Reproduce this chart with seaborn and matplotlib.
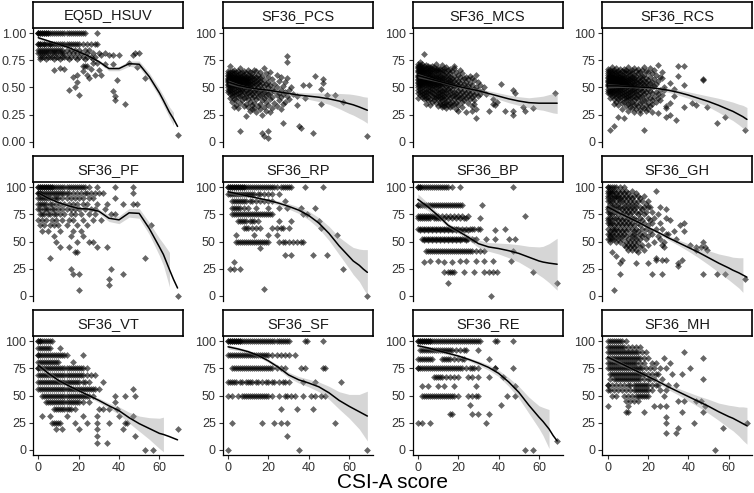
import numpy as np
import pandas as pd
import seaborn as sns
import matplotlib.pyplot as plt

# x grid of the loess curves
SMOOTH_X = [0, 5, 10, 15, 20, 25, 30, 35, 40, 45, 50, 55, 60, 62, 65, 67, 69]

# points: score value -> CSI-A scores seen at that value
eq5d_points = {
    1.00: [0, 0, 0, 1, 1, 2, 2, 3, 3, 4, 4, 5, 5, 6, 7, 8, 9, 10, 11, 12, 13, 14, 15, 16, 17, 18, 19, 20, 21, 22, 23, 29],
    0.90: [0, 0, 1, 1, 2, 3, 3, 4, 5, 6, 6, 7, 8, 9, 10, 11, 12, 13, 14, 15, 16, 17, 18, 19, 20, 22, 24, 26, 28, 29],
    0.85: [0, 1, 2, 3, 4, 5, 6, 7, 8, 9, 10, 11, 12, 14, 16, 18, 20, 23, 25],
    0.82: [0, 1, 2, 3, 4, 5, 7, 8, 9, 11, 12, 13, 15, 17, 19, 21, 24, 27, 30, 33, 48, 50],
    0.80: [31, 35, 37, 40, 47],
    0.78: [1, 2, 3, 5, 6, 7, 9, 10, 12, 13, 14, 16, 18, 20, 22, 24, 26, 28],
    0.76: [1, 4, 8, 11, 15, 19, 23, 27],
    0.73: [29, 45, 27],
    0.72: [33, 37],
    0.70: [22, 23, 24],
    0.69: [49],
    0.67: [13, 26],
    0.66: [8, 30],
    0.68: [11],
    0.65: [22],
    0.62: [19, 24, 28, 31],
    0.60: [17],
    0.59: [25, 53],
    0.57: [39],
    0.55: [19],
    0.50: [18],
    0.48: [15],
    0.47: [37],
    0.43: [20],
    0.42: [38],
    0.38: [38],
    0.35: [43],
    0.06: [69],
}
eq5d_line = [0.96, 0.93, 0.90, 0.87, 0.83, 0.79, 0.74, 0.675, 0.675, 0.72, 0.715, 0.60, 0.45, 0.38, 0.27, 0.21, 0.14]
eq5d_band = [0.015, 0.01, 0.01, 0.01, 0.01, 0.01, 0.015, 0.02, 0.02, 0.025, 0.03, 0.035, 0.04, 0.045, 0.05, 0.06]

pcs_points = {
    79: [29], 74: [29], 70: [1], 68: [6, 18], 66: [3, 10, 13], 65: [0, 2, 5, 8, 14],
    64: [1, 4, 7, 11, 16, 21], 63: [0, 2, 3, 6, 9, 12, 19], 62: [0, 1, 4, 5, 8, 10, 15, 24],
    61: [0, 2, 3, 6, 7, 11, 13, 17, 43], 60: [1, 2, 4, 5, 8, 9, 12, 14, 20, 26],
    59: [0, 1, 3, 4, 6, 7, 10, 11, 16, 29], 58: [0, 2, 3, 5, 6, 8, 9, 13, 15, 22, 47],
    57: [0, 1, 2, 4, 5, 7, 9, 10, 12, 18], 56: [0, 1, 3, 4, 6, 8, 11, 14, 16, 25],
    55: [0, 2, 3, 5, 7, 9, 10, 13, 20, 28], 54: [1, 2, 4, 6, 8, 10, 12, 15, 17, 47],
    53: [0, 1, 3, 5, 6, 9, 11, 14, 19, 23], 52: [0, 2, 4, 5, 7, 8, 12, 16, 21, 37, 40],
    51: [1, 3, 6, 9, 10, 13, 18, 27], 50: [0, 2, 4, 5, 8, 11, 15, 20, 24, 31],
    49: [1, 3, 6, 7, 10, 14, 17, 22, 46], 48: [0, 2, 5, 9, 12, 16, 26, 30],
    47: [1, 4, 7, 11, 13, 19, 23], 46: [0, 3, 6, 8, 15, 18, 28], 45: [2, 5, 10, 14, 21, 25],
    44: [1, 4, 9, 12, 17, 20, 27, 32], 43: [3, 7, 11, 16, 24, 49, 53], 42: [2, 6, 13, 19, 29, 34],
    41: [5, 9, 15, 22, 26], 40: [1, 8, 12, 18, 38], 39: [3, 10, 14, 21, 30], 38: [4, 7, 17, 25],
    37: [2, 11, 19, 28, 57], 36: [6, 13, 23], 35: [9, 16, 27, 46], 34: [4, 12, 20, 34],
    33: [8, 15, 24], 32: [3, 10, 18], 31: [5, 13, 22], 30: [12, 16, 26], 28: [11, 19],
    27: [14, 21], 25: [17], 24: [9], 17: [27], 14: [35], 13: [36], 10: [6, 20], 8: [17, 42],
    5: [18, 69], 3: [20],
}
pcs_line = [55, 52, 50, 48.5, 47.5, 46, 44.5, 43, 42, 41, 39.5, 37.5, 35, 34, 32, 30.5, 29]
pcs_band = [2, 1.5, 1, 1, 1, 1.3, 2, 2.5, 3, 4, 5, 7, 9, 9.5, 10.5, 11, 12]

mcs_points = {
    81: [3], 74: [1], 72: [0, 2, 9], 71: [1, 4, 12], 70: [0, 3, 5, 7, 18], 69: [0, 1, 2, 6, 8, 14],
    68: [0, 2, 4, 5, 10, 13, 18], 67: [1, 3, 6, 7, 9, 11, 16], 66: [0, 2, 4, 8, 10, 12, 15, 21],
    65: [0, 1, 3, 5, 6, 9, 13, 17], 64: [0, 2, 4, 7, 8, 11, 14, 19], 63: [1, 2, 3, 5, 6, 10, 12, 16, 22],
    62: [0, 1, 4, 6, 7, 9, 13, 15, 20, 29], 61: [0, 2, 3, 5, 8, 10, 11, 14, 18, 26],
    60: [0, 1, 3, 4, 6, 9, 12, 16, 21, 24], 59: [1, 2, 4, 5, 7, 8, 11, 13, 17, 23, 27],
    58: [0, 2, 3, 6, 7, 10, 12, 15, 19, 25], 57: [0, 1, 3, 4, 5, 8, 9, 14, 16, 22, 28],
    56: [1, 2, 4, 6, 7, 10, 11, 13, 18, 20], 55: [0, 2, 3, 5, 8, 9, 12, 15, 17, 24, 30],
    54: [0, 1, 4, 6, 7, 11, 14, 16, 21, 26], 53: [1, 3, 5, 8, 10, 12, 13, 19, 23, 41],
    52: [0, 2, 4, 6, 9, 11, 15, 17, 20, 27, 31], 51: [1, 3, 7, 8, 10, 14, 18, 22, 25],
    50: [0, 2, 5, 6, 9, 12, 16, 19, 24, 29, 33], 49: [1, 4, 7, 11, 13, 15, 21, 26, 28],
    48: [0, 3, 5, 8, 10, 14, 17, 23, 30, 47], 47: [2, 6, 9, 12, 16, 20, 25, 32],
    46: [1, 4, 7, 11, 13, 18, 22, 27], 45: [0, 3, 5, 10, 14, 19, 24, 29, 48, 68],
    44: [2, 6, 8, 12, 16, 21, 26, 31, 34], 43: [1, 4, 9, 11, 15, 18, 23, 28],
    42: [3, 7, 10, 13, 17, 20, 25, 30], 41: [2, 5, 8, 12, 14, 19, 22, 27], 40: [0, 4, 9, 11, 16, 21, 24],
    39: [3, 6, 10, 13, 18, 26, 37], 38: [5, 8, 12, 15, 20, 23, 28], 37: [7, 11, 14, 17, 22, 39],
    36: [9, 13, 16, 19, 25], 35: [4, 11, 14, 18, 28, 37], 34: [6, 12, 15, 20, 38], 33: [10, 13, 17, 27],
    32: [12, 16, 22, 52], 31: [14, 57], 30: [19, 29], 28: [20, 27, 35, 43, 47, 53], 27: [24],
    25: [47], 22: [29],
}
mcs_line = [61, 58.5, 56, 53.5, 51, 49, 47, 44.5, 42, 39.5, 37.5, 36, 35.5, 35.5, 35.5, 35.5, 35.5]
mcs_band = [2, 1.5, 1, 1, 1, 1.5, 2, 2.5, 3, 3.5, 4, 4.5, 6, 6.5, 8, 9, 9.5]

rcs_points = {
    71: [25], 70: [35, 38], 69: [2, 10, 18], 68: [4, 13, 21], 67: [0, 6, 8, 15], 66: [1, 3, 9, 12, 17, 23],
    65: [0, 2, 5, 7, 11, 14, 19], 64: [1, 3, 4, 8, 10, 16, 20, 27], 63: [0, 2, 5, 6, 9, 12, 15, 22],
    62: [0, 1, 3, 4, 7, 11, 13, 18, 24], 61: [1, 2, 5, 6, 8, 10, 14, 17, 35],
    60: [0, 2, 3, 4, 7, 9, 12, 16, 21, 26], 59: [0, 1, 3, 5, 6, 8, 11, 13, 19, 27],
    58: [1, 2, 4, 5, 7, 10, 12, 15, 17, 23, 47], 57: [0, 2, 3, 6, 8, 9, 11, 14, 20, 47],
    56: [0, 1, 3, 4, 5, 7, 10, 13, 16, 18, 25], 55: [0, 2, 4, 6, 8, 9, 12, 14, 19, 22],
    54: [1, 2, 3, 5, 7, 10, 11, 15, 17, 21, 31], 53: [0, 1, 3, 4, 6, 8, 9, 13, 16, 24],
    52: [0, 2, 3, 5, 7, 9, 11, 12, 18, 20, 38], 51: [0, 1, 4, 6, 8, 10, 13, 15, 19, 23],
    50: [1, 2, 3, 5, 7, 9, 12, 14, 17, 22, 28], 49: [0, 2, 4, 6, 8, 11, 13, 16, 20, 33],
    48: [1, 3, 5, 7, 10, 12, 15, 18, 26, 28], 47: [0, 2, 4, 6, 9, 14, 17, 21],
    46: [1, 3, 5, 8, 11, 13, 19, 24], 45: [0, 2, 7, 10, 12, 16, 22], 44: [1, 4, 6, 9, 14, 18, 25],
    43: [3, 5, 8, 11, 15, 20, 27], 42: [2, 7, 10, 13, 17, 33], 41: [4, 6, 9, 12, 16, 23],
    40: [1, 8, 11, 14, 21, 25], 39: [3, 5, 10, 15, 19], 38: [6, 9, 13, 18, 22, 26],
    37: [4, 8, 12, 17, 24], 36: [7, 11, 16, 20, 31, 42], 35: [3, 10, 14, 22], 34: [5, 13, 19, 44],
    33: [9, 15, 21, 29], 32: [11, 17, 38, 49], 31: [12, 18, 29], 30: [7, 14, 20], 29: [16],
    28: [10, 19], 27: [13, 22], 26: [16, 25], 25: [31], 23: [5, 29, 58], 22: [8], 20: [34],
    17: [54], 14: [3], 11: [1, 18, 68],
}
rcs_line = [51.5, 51.5, 51, 50.5, 50, 49, 47.5, 45.5, 43, 40, 37, 33.5, 29.5, 28, 25, 23, 20.5]
rcs_band = [2, 1.5, 1, 1, 1, 1.5, 2, 2.5, 3, 4, 5, 6.5, 8, 8.5, 9.5, 10.5, 11]

pf_points = {
    100: [0, 0, 1, 1, 2, 2, 3, 3, 4, 4, 5, 5, 6, 6, 7, 7, 8, 9, 10, 11, 12, 13, 14, 15, 16, 17, 18, 19, 20, 21, 22, 23, 25, 29, 38, 47],
    95: [0, 0, 1, 1, 2, 3, 4, 5, 6, 7, 8, 9, 10, 11, 12, 13, 14, 15, 17, 19, 21, 23, 24, 26, 28, 30, 32, 47],
    90: [0, 1, 2, 3, 4, 5, 6, 8, 9, 10, 12, 14, 16, 18, 20, 22, 25, 27, 38],
    85: [0, 1, 2, 3, 4, 6, 7, 9, 11, 13, 15, 17, 19, 22, 24, 29, 34, 42, 47, 49],
    80: [0, 1, 3, 4, 5, 7, 8, 10, 12, 14, 16, 18, 20, 23, 26, 28, 33],
    75: [1, 2, 3, 5, 6, 8, 9, 11, 13, 16, 18, 21, 25, 28, 36, 38],
    70: [0, 2, 4, 7, 9, 12, 15, 17, 22, 27, 31],
    65: [1, 3, 6, 8, 10, 14, 19, 24, 56],
    60: [2, 5, 11, 17, 21],
    55: [8, 16, 22],
    50: [9, 19, 25, 27],
    45: [11, 15, 29, 34],
    40: [18, 19],
    35: [6, 53],
    25: [16, 36],
    20: [17, 20, 42],
    15: [35],
    10: [35],
    5: [20],
    0: [69],
}
pf_line = [95, 90, 86, 83, 80.5, 80, 78, 71.5, 70, 76.5, 76, 62, 45, 38, 24, 15, 7]
pf_band = [1.5, 1.5, 1.5, 1.5, 1.5, 1.5, 2, 3, 3.5, 4, 4.5, 5.5, 8, 10, 16]

rp_points = {
    100: [0, 0, 1, 1, 2, 2, 3, 3, 4, 4, 5, 5, 6, 6, 7, 7, 8, 8, 9, 10, 11, 12, 13, 14, 15, 16, 17, 18, 19, 20, 21, 22, 23, 24, 26, 27, 28, 29, 30, 31, 38, 47],
    93.75: [0, 1, 2, 3, 4, 5, 6, 7, 8, 9, 10, 11, 12, 13, 15, 16, 18, 20, 22, 25],
    87.5: [2, 3, 4, 5, 6, 7, 8, 9, 11, 12, 14, 16, 18, 20, 22, 28],
    81.25: [2, 3, 4, 5, 6, 8, 10, 14, 20, 25, 29, 36, 43],
    75: [2, 3, 4, 5, 6, 7, 8, 9, 10, 11, 12, 13, 14, 15, 16, 17, 18, 19, 20, 21, 22, 37, 39],
    68.75: [5, 6, 7, 8, 9, 11, 12, 13, 15, 25, 31, 45],
    62.5: [8, 9, 10, 12, 14, 16, 22, 24, 26, 27, 30, 46],
    56.25: [4, 13, 20, 24, 54],
    50: [4, 5, 6, 7, 8, 9, 10, 11, 12, 13, 14, 15, 16, 17, 18, 19, 20, 25, 27, 28, 30, 32, 34, 36, 37],
    43.75: [16],
    37.5: [28, 31, 42, 49],
    31.25: [3],
    25: [1, 3, 6, 57],
    6.25: [18],
    0: [69],
}
rp_line = [96, 94, 92, 90, 88, 85.5, 82.5, 79, 74, 67, 57.5, 46, 36, 32, 28, 24.5, 21.5]
rp_band = [2, 1.5, 1.2, 1.2, 1.5, 2, 2.5, 3, 4, 5, 6.5, 8, 11, 12.5, 15, 18, 21]

bp_points = {
    100: [0, 0, 1, 1, 2, 3, 4, 5, 6, 7, 8, 9, 10, 11, 12, 13, 14, 15, 17, 21, 47],
    84: [0, 0, 1, 2, 3, 4, 5, 6, 7, 8, 9, 10, 11, 12, 13, 14, 15, 16, 17, 18, 19, 20, 21, 22, 32],
    74: [0, 1, 2, 3, 4, 5, 6, 7, 8, 9, 10, 12, 14, 16, 18, 20, 22, 25, 53],
    72: [0, 1, 2, 3, 4, 5, 6, 8, 9, 10, 11, 13, 15, 17, 19, 21, 23, 24, 31],
    62: [0, 1, 2, 3, 4, 5, 6, 7, 8, 9, 10, 11, 12, 13, 14, 15, 16, 17, 18, 19, 20, 22, 24, 26, 27, 28, 30, 31, 43],
    61: [1, 3, 5, 7, 9, 11, 13, 15, 17, 19, 21, 23, 25, 38],
    52: [2, 3, 4, 5, 6, 7, 8, 9, 10, 11, 12, 13, 14, 15, 16, 17, 18, 19, 20, 21, 22, 23, 24, 25, 27, 29, 34, 38, 45, 48],
    51: [3, 5, 7, 9, 11, 13, 15, 17, 19, 21, 24, 28],
    41: [4, 5, 6, 7, 8, 9, 10, 11, 12, 13, 14, 15, 16, 17, 18, 19, 20, 21, 22, 23, 24, 25, 26, 27, 29, 31, 33, 47],
    32: [6, 10, 21, 24, 29, 33, 37, 46],
    31: [3, 13, 17],
    22: [13, 15, 16, 17, 18, 23, 28, 33, 35, 37, 39, 57],
    12: [15, 69],
    0: [36],
}
bp_line = [89, 82, 74, 65, 59.5, 54, 48, 45, 43.5, 41.5, 39, 35.5, 32, 31, 30, 29.5, 29]
bp_band = [5, 3.5, 2.5, 2, 2, 2.5, 3.5, 4, 5, 6.5, 8, 10, 13, 14.5, 18, 21, 24]

gh_points = {
    100: [0, 0, 1, 2, 3, 4, 6, 8],
    97: [0, 1, 2, 3, 5, 7, 9, 12, 24],
    95: [0, 1, 2, 4, 6, 8, 10, 14],
    92: [0, 1, 3, 4, 5, 7, 9, 11, 13, 15, 18],
    90: [0, 2, 3, 5, 6, 8, 10, 12, 16],
    87: [0, 1, 2, 4, 6, 7, 9, 11, 13, 15, 17, 20],
    85: [1, 3, 5, 8, 10, 12, 14, 19],
    82: [0, 1, 2, 3, 5, 6, 8, 10, 12, 14, 16, 18, 20, 21, 26],
    80: [0, 2, 4, 7, 9, 11, 13, 17, 29],
    77: [0, 1, 3, 4, 6, 8, 10, 12, 14, 16, 19, 22],
    75: [1, 2, 5, 7, 9, 11, 15, 18, 25],
    72: [0, 1, 3, 4, 6, 8, 10, 12, 13, 16, 20, 23, 29],
    70: [0, 2, 5, 7, 9, 11, 14, 17, 21, 31],
    67: [0, 1, 2, 4, 6, 8, 10, 12, 15, 18, 22, 26, 38],
    65: [1, 3, 5, 7, 9, 11, 13, 16, 20, 36],
    62: [0, 2, 3, 4, 6, 8, 10, 12, 14, 17, 19, 24, 27],
    60: [1, 3, 5, 7, 9, 13, 15, 21, 33, 38],
    57: [0, 1, 2, 4, 6, 8, 11, 13, 16, 18, 22, 29, 30],
    55: [1, 3, 5, 7, 9, 12, 14, 17, 20, 25],
    52: [0, 1, 2, 3, 5, 7, 10, 12, 14, 16, 19, 26, 34],
    50: [1, 4, 6, 9, 11, 13, 15, 23, 28, 47],
    47: [8, 10, 12, 14, 17, 20, 27, 41],
    45: [9, 11, 13, 16, 28, 44, 46, 48],
    42: [10, 12, 14, 18, 44, 49],
    40: [2, 15],
    37: [4],
    35: [24],
    33: [7, 24, 27, 29, 37],
    30: [6, 14, 20, 35],
    27: [35],
    20: [6, 22, 27, 47, 54, 58],
    15: [68],
    5: [3],
}
gh_line = [82, 77, 72.5, 68, 63, 58.5, 53.5, 49, 44.5, 40, 35, 30, 25.5, 23.5, 21, 19, 17]
gh_band = [3, 2.5, 2, 1.5, 1.5, 1.5, 2, 2.5, 3.5, 5, 6.5, 8.5, 11, 12, 14, 16]

vt_points = {
    100: [0, 0, 1, 1, 2, 3, 4, 5, 6, 7],
    93.75: [0, 1, 2, 3, 4, 5, 6, 11],
    87.5: [0, 0, 1, 2, 3, 4, 5, 6, 7, 8, 9, 10, 11, 12, 13, 14, 22],
    81.25: [0, 1, 2, 3, 4, 5, 6, 7, 8, 9, 10, 17],
    75: [0, 0, 1, 2, 3, 4, 5, 6, 7, 8, 9, 10, 11, 12, 13, 14, 15, 16, 17, 18, 19, 20, 21, 22, 24],
    68.75: [0, 1, 2, 3, 4, 5, 6, 7, 8, 9, 10, 11, 12, 13, 14, 15, 16, 17, 18, 19, 20, 21, 22, 24, 26, 28],
    62.5: [0, 1, 2, 3, 4, 5, 6, 7, 8, 9, 10, 11, 12, 13, 14, 15, 16, 17, 18, 19, 20, 22, 23, 25, 32],
    56.25: [0, 1, 2, 3, 4, 5, 6, 7, 8, 9, 10, 11, 12, 13, 14, 15, 16, 17, 18, 19, 20, 21, 22, 23, 24, 25, 26, 27, 28, 30, 47],
    50: [2, 3, 4, 5, 6, 7, 8, 9, 10, 11, 12, 13, 14, 15, 16, 17, 18, 19, 20, 21, 22, 23, 24, 25, 27, 38, 43, 48],
    43.75: [4, 5, 6, 7, 8, 9, 10, 11, 12, 13, 14, 15, 16, 17, 18, 19, 20, 22, 25, 38],
    37.5: [8, 9, 10, 11, 12, 13, 14, 15, 16, 18, 30, 32, 35, 39],
    31.25: [2, 6, 14, 22, 29, 40, 47],
    25: [7, 8, 9, 10, 11, 18, 24, 29, 35, 43, 44],
    18.75: [9, 12, 20, 29, 42, 69],
    12.5: [29, 48],
    6.25: [29, 34],
    0: [53, 57],
}
vt_line = [78, 70.5, 64, 59, 54.5, 50, 45.5, 40.5, 36, 29.5, 24, 19.5, 15, 14, 12, 10.5, 9]
vt_band = [3, 2.5, 2, 1.5, 1.5, 1.5, 2, 2.5, 3.5, 5, 7, 10, 14, 16]

sf_points = {
    100: [0, 0, 1, 1, 2, 2, 3, 3, 4, 4, 5, 5, 6, 6, 7, 8, 9, 10, 11, 12, 13, 14, 15, 16, 17, 18, 19, 20, 21, 22, 23, 24, 25, 26, 27, 28, 29, 30, 38, 39, 47],
    87.5: [0, 1, 2, 3, 4, 5, 6, 7, 8, 9, 10, 11, 12, 13, 14, 15, 16, 17, 18, 19, 20, 22, 24, 26, 28, 30, 33],
    75: [2, 3, 4, 5, 6, 7, 8, 9, 10, 11, 12, 13, 14, 15, 16, 17, 18, 19, 20, 21, 22, 24, 26, 28, 36, 38, 47, 48],
    62.5: [0, 1, 2, 3, 4, 6, 7, 9, 10, 11, 12, 14, 15, 17, 19, 20, 22, 23, 25, 27, 28, 30, 37, 43, 56],
    50: [0, 2, 5, 7, 8, 9, 10, 11, 12, 13, 14, 15, 16, 17, 18, 19, 20, 22, 25, 28, 29, 31, 33, 37, 41, 43, 46, 48],
    37.5: [26, 34, 42],
    25: [2, 17, 23, 26, 29, 53],
    12.5: [29],
    0: [0, 35, 69],
}
sf_line = [95, 93, 90.5, 87, 82, 76, 69, 64.5, 61.5, 58, 52.5, 45.5, 40, 38, 35, 33, 31]
sf_band = [2, 1.5, 1.5, 1.5, 1.5, 2, 2.5, 3, 3.5, 4.5, 6, 8, 11, 13, 16, 19.5, 23]

re_points = {
    100: [0, 0, 1, 1, 2, 2, 3, 3, 4, 4, 5, 5, 6, 6, 7, 8, 9, 10, 11, 12, 13, 14, 15, 16, 17, 18, 19, 20, 21, 22, 23, 24, 25, 26, 27, 28, 29, 30, 31, 38, 39, 47],
    91.67: [1, 2, 3, 4, 5, 6, 7, 8, 9, 10, 11, 12, 13, 14, 15, 16, 17, 19, 21, 23, 24, 30],
    83.33: [0, 1, 2, 3, 4, 5, 6, 7, 12, 13, 14, 15, 16, 18, 20, 22, 23, 35],
    75: [0, 0, 1, 2, 3, 4, 5, 6, 7, 8, 9, 10, 11, 12, 13, 14, 15, 16, 17, 18, 19, 20, 21, 22, 24, 26, 27, 28, 30, 38, 38, 47],
    66.67: [8, 9, 10, 11, 12, 14, 16, 18, 20, 25, 27, 30, 35, 42],
    58.33: [2, 5, 10, 13, 18, 29, 48],
    50: [2, 3, 4, 5, 6, 7, 8, 9, 10, 11, 12, 13, 14, 15, 16, 17, 18, 20, 25, 27, 29, 30, 44, 48],
    41.67: [26, 41],
    33.33: [16, 17, 27, 30, 35],
    25: [0, 2, 6, 34],
    8.33: [69],
    0: [53, 57],
}
re_line = [96, 94, 91.5, 89, 86.5, 83.5, 80, 76, 70.5, 62.5, 53, 41, 30, 26, 19, 13, 8]
re_band = [2, 1.5, 1.5, 1.5, 1.5, 1.5, 2, 2.5, 3, 4, 5.5, 7.5, 10.5, 13, 18]

mh_points = {
    100: [0, 1, 2, 3, 4, 5, 6, 7, 9],
    95: [0, 1, 2, 3, 4, 5, 6, 7, 8, 10, 12, 14, 16],
    90: [0, 1, 2, 3, 4, 5, 6, 7, 8, 9, 10, 11, 12, 13, 14, 15, 17, 19, 38],
    85: [0, 1, 2, 3, 4, 5, 6, 7, 8, 9, 10, 11, 12, 13, 14, 15, 16, 18, 20, 28, 47],
    80: [0, 1, 2, 3, 4, 5, 6, 7, 8, 9, 10, 11, 12, 13, 14, 16, 18, 22, 24, 31],
    75: [0, 1, 2, 3, 4, 5, 6, 7, 8, 9, 10, 11, 12, 13, 14, 15, 16, 17, 19, 21, 23, 26, 29, 41],
    70: [1, 2, 3, 4, 5, 6, 7, 8, 9, 10, 11, 12, 13, 14, 15, 16, 17, 18, 20, 22, 24, 25, 32, 37],
    65: [1, 3, 4, 5, 6, 7, 8, 9, 10, 11, 12, 13, 14, 15, 16, 18, 20, 21, 23, 27, 47],
    60: [0, 0, 2, 4, 6, 8, 10, 11, 13, 14, 15, 16, 17, 18, 19, 20, 22, 24, 25, 30, 34],
    55: [0, 1, 3, 5, 7, 9, 11, 13, 14, 15, 16, 17, 18, 19, 20, 22, 26, 29],
    50: [2, 4, 8, 10, 12, 14, 15, 16, 17, 18, 19, 20, 28],
    45: [9, 11, 13, 15, 35, 38, 44, 46],
    40: [0, 10, 23, 26, 29, 48],
    35: [9, 10, 18, 37, 47],
    30: [29],
    25: [29, 43, 69],
    20: [35, 57],
    15: [29, 34],
    0: [53],
}
mh_line = [85.5, 81, 76.5, 72, 67.5, 63, 58, 53.5, 49, 44.5, 40, 35, 30.5, 29, 26, 24, 22]
mh_band = [2.5, 2, 1.5, 1.5, 1.5, 2, 2.5, 3, 4, 5, 6.5, 8, 10.5, 11.5, 13.5, 15.5, 17]

panels = [
    ("EQ5D_HSUV", eq5d_points, eq5d_line, eq5d_band),
    ("SF36_PCS", pcs_points, pcs_line, pcs_band),
    ("SF36_MCS", mcs_points, mcs_line, mcs_band),
    ("SF36_RCS", rcs_points, rcs_line, rcs_band),
    ("SF36_PF", pf_points, pf_line, pf_band),
    ("SF36_RP", rp_points, rp_line, rp_band),
    ("SF36_BP", bp_points, bp_line, bp_band),
    ("SF36_GH", gh_points, gh_line, gh_band),
    ("SF36_VT", vt_points, vt_line, vt_band),
    ("SF36_SF", sf_points, sf_line, sf_band),
    ("SF36_RE", re_points, re_line, re_band),
    ("SF36_MH", mh_points, mh_line, mh_band),
]

sns.set_theme(style="ticks")
plt.rcParams["font.family"] = ["Liberation Sans", "DejaVu Sans"]

W, H = 754, 493
fig = plt.figure(figsize=(W / 100, H / 100), dpi=100)

# layout in pixels
COL_LEFT = [33, 222.8, 412.6, 602.4]
PANEL_W = 150
ROW_TOP = [28, 182, 336]
PANEL_H = 119
STRIP_H = 26
TICK_COL = "#333333"

for i, (name, pts, line, band) in enumerate(panels):
    r, c = divmod(i, 4)
    left, top = COL_LEFT[c], ROW_TOP[r]
    ax = fig.add_axes([left / W, 1 - (top + PANEL_H) / H, PANEL_W / W, PANEL_H / H])
    strip = fig.add_axes([left / W, 1 - top / H, PANEL_W / W, STRIP_H / H])

    df = pd.DataFrame([(x, y) for y, xs in pts.items() for x in xs], columns=["csi", "score"])
    sns.scatterplot(data=df, x="csi", y="score", ax=ax, marker="D", s=12,
                    color="black", alpha=0.6, linewidth=0, zorder=2)
    bx = SMOOTH_X[:len(band)]
    lo = [line[k] - band[k] for k in range(len(band))]
    hi = [line[k] + band[k] for k in range(len(band))]
    ax.fill_between(bx, lo, hi, color="#999999", alpha=0.4, lw=0, zorder=3)
    sns.lineplot(x=SMOOTH_X, y=line, ax=ax, color="black", lw=1.1, zorder=4)

    ax.set_xlim(-2.6, 71.7)
    if name == "EQ5D_HSUV":
        ax.set_ylim(-0.05, 1.05)
        ax.set_yticks([0, 0.25, 0.5, 0.75, 1.0])
        ax.set_yticklabels(["0.00", "0.25", "0.50", "0.75", "1.00"])
    else:
        ax.set_ylim(-5, 105)
        ax.set_yticks([0, 25, 50, 75, 100])
    ax.set_xlabel("")
    ax.set_ylabel("")
    for s in ["top", "right"]:
        ax.spines[s].set_visible(False)
    ax.spines["left"].set_linewidth(0.9)
    ax.spines["left"].set_color("black")
    ax.tick_params(axis="y", length=3, width=0.8, color=TICK_COL, labelsize=9,
                   labelcolor=TICK_COL, pad=2)
    if r == 2:
        ax.set_xticks([0, 20, 40, 60])
        ax.spines["bottom"].set_linewidth(0.9)
        ax.spines["bottom"].set_color("black")
        ax.tick_params(axis="x", length=3, width=0.8, color=TICK_COL, labelsize=9,
                       labelcolor=TICK_COL, pad=2)
    else:
        ax.spines["bottom"].set_visible(False)
        ax.set_xticks([])

    strip.set_xticks([])
    strip.set_yticks([])
    strip.set_facecolor("white")
    for s in strip.spines.values():
        s.set_visible(True)
        s.set_linewidth(1.2)
        s.set_color("black")
    strip.text(0.5, 0.47, name, ha="center", va="center", fontsize=10.5,
               color="#1a1a1a", transform=strip.transAxes)

fig.text(392.5 / W, 1 - 482 / H, "CSI-A score", ha="center", va="center", fontsize=15, color="black")

fig.savefig("out.png", dpi=100)
